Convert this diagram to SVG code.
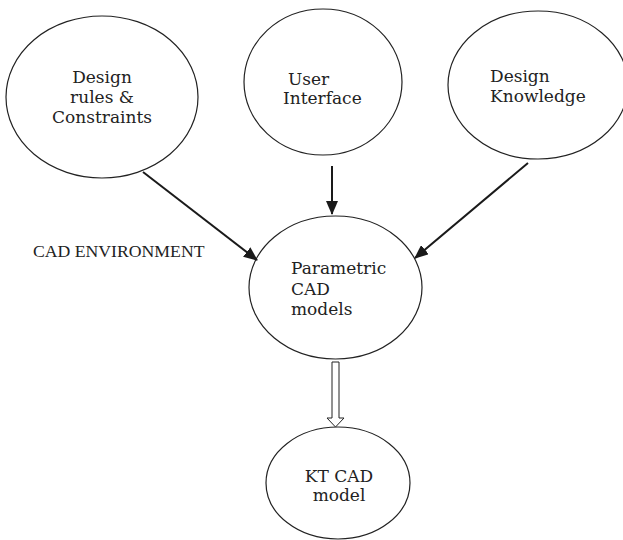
<svg xmlns="http://www.w3.org/2000/svg" width="623" height="540" viewBox="0 0 623 540">
<style>
.n{fill:#fff;stroke:#222;stroke-width:1.2}
.t{font-family:"DejaVu Serif","Liberation Serif",serif;font-size:17px;fill:#222}
.c{stroke:#1a1a1a;stroke-width:2;fill:none}
</style>
<defs>
<marker id="ah" markerWidth="14" markerHeight="12" refX="13" refY="6" orient="auto" markerUnits="userSpaceOnUse">
<path d="M0,0 L14,6 L0,12 Z" fill="#1a1a1a"/>
</marker>
</defs>
<rect width="623" height="540" fill="#fff"/>
<g id="design-rules">
<ellipse class="n" cx="102" cy="97" rx="96" ry="81"/>
<text class="t" text-anchor="middle"><tspan x="102" y="83">Design</tspan><tspan x="102" y="103">rules &amp;</tspan><tspan x="102" y="123">Constraints</tspan></text>
</g>
<g id="user-interface">
<ellipse class="n" cx="323" cy="82" rx="79" ry="73"/>
<text class="t"><tspan x="288" y="85">User</tspan><tspan x="283" y="104">Interface</tspan></text>
</g>
<g id="design-knowledge">
<ellipse class="n" cx="538" cy="85" rx="90" ry="74"/>
<text class="t"><tspan x="490" y="82">Design</tspan><tspan x="490" y="102">Knowledge</tspan></text>
</g>
<g id="parametric">
<ellipse class="n" cx="335.5" cy="287.5" rx="86.5" ry="71.5"/>
<text class="t"><tspan x="291" y="274">Parametric</tspan><tspan x="291" y="295">CAD</tspan><tspan x="291" y="315">models</tspan></text>
</g>
<g id="kt-cad">
<ellipse class="n" cx="338" cy="483" rx="72" ry="56"/>
<text class="t" text-anchor="middle"><tspan x="339" y="482">KT CAD</tspan><tspan x="339" y="501">model</tspan></text>
</g>
<g id="label">
<text x="33" y="257" style="font-family:'Liberation Serif',serif;font-size:17.7px;fill:#222">CAD ENVIRONMENT</text>
</g>
<g id="connectors">
<line class="c" x1="143" y1="172" x2="257" y2="260" marker-end="url(#ah)"/>
<line class="c" x1="332" y1="166" x2="332" y2="214" marker-end="url(#ah)"/>
<line class="c" x1="528" y1="163" x2="415" y2="258" marker-end="url(#ah)"/>
<polygon points="332,362 339,362 339,418 344,418 335.5,427 327,418 332,418" fill="#fff" stroke="#222" stroke-width="1"/>
</g>
</svg>
